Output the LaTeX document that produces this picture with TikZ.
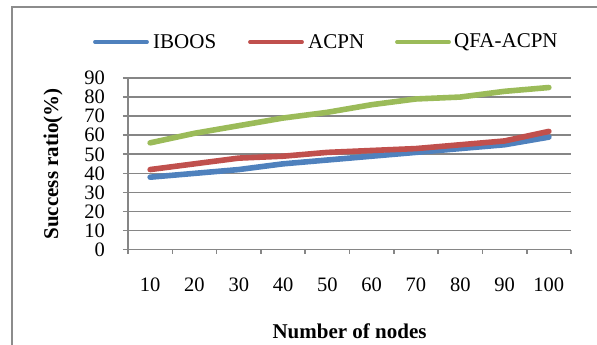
\documentclass[tikz,border=0pt]{standalone}
\usepackage{fontspec}
\setmainfont{Liberation Serif}
\definecolor{gridgray}{HTML}{868686}
\definecolor{framegray}{HTML}{8C8C8C}
\definecolor{serA}{HTML}{4F81BD}
\definecolor{serB}{HTML}{C0504D}
\definecolor{serC}{HTML}{9BBB59}
\tikzset{
  gridline/.style={draw=gridgray, line width=1.6pt},
  axisline/.style={draw=gridgray, line width=1.6pt},
  series/.style={line width=5.6pt, line cap=round, line join=round},
  keyline/.style={line width=3.8pt, line cap=round},
  ticklabel/.style={font=\fontsize{20.5}{20.5}\selectfont, inner sep=0pt},
  axistitle/.style={font=\fontsize{21}{21}\selectfont\bfseries, inner sep=0pt},
  keytext/.style={font=\fontsize{21}{21}\selectfont, inner sep=0pt, anchor=west},
}
\begin{document}
\begin{tikzpicture}[x=1pt,y=1pt]
\useasboundingbox (0,0) rectangle (597,345);
% outer chart frame
\draw[framegray, line width=2pt] (12,0) -- (12,338) -- (597,338);

% plot area: one x unit per category, one y unit per percent
\begin{scope}[shift={(128,95.3)}, x=44.3pt, y=1.908pt]
  % horizontal grid
  \foreach \v in {10,20,...,90}
    \draw[gridline] (-0.113,\v) -- (10,\v);
  % axes and tick marks
  \draw[axisline] (0,-2.1) -- (0,90);
  \draw[axisline] (-0.113,0) -- (10,0);
  \foreach \i in {0,...,10}
    \draw[axisline] (\i,0) -- (\i,-2.1);
  % y tick labels
  \foreach \v in {0,10,...,90}
    \node[ticklabel, anchor=east] (ylab\v) at (-0.52,\v) {\v};
  % x tick labels
  \foreach \n [count=\i from 0] in {10,20,...,100}
    \node[ticklabel] (xlab\n) at (\i+0.5,-18.3) {\n};
  % data series
  \draw[series, serA] plot coordinates {(0.5,38) (1.5,40) (2.5,42) (3.5,45) (4.5,47)
    (5.5,49) (6.5,51) (7.5,53) (8.5,55) (9.5,59)};
  \draw[series, serB] plot coordinates {(0.5,42) (1.5,45) (2.5,48) (3.5,49) (4.5,51)
    (5.5,52) (6.5,53) (7.5,55) (8.5,57) (9.5,62)};
  \draw[series, serC] plot coordinates {(0.5,56) (1.5,61) (2.5,65) (3.5,69) (4.5,72)
    (5.5,76) (6.5,79) (7.5,80) (8.5,83) (9.5,85)};
  % axis titles
  \node[axistitle] (xtitle) at (5,-42.5) {Number of nodes};
  \node[axistitle, rotate=90] (ytitle) at (-1.69,45) {Success ratio(\%)};
\end{scope}

% legend
\coordinate (k1a) at (95,303); \coordinate (k1b) at (147,303);
\coordinate (k2a) at (250,303); \coordinate (k2b) at (302,303);
\coordinate (k3a) at (397,303); \coordinate (k3b) at (449,303);
\draw[keyline, serA] (k1a) -- (k1b);
\draw[keyline, serB] (k2a) -- (k2b);
\draw[keyline, serC] (k3a) -- (k3b);
\node[keytext] (key1) at (153,303) {IBOOS};
\node[keytext] (key2) at (308,303) {ACPN};
\node[keytext] (key3) at (454,303) {QFA-ACPN};
\end{tikzpicture}
\end{document}
